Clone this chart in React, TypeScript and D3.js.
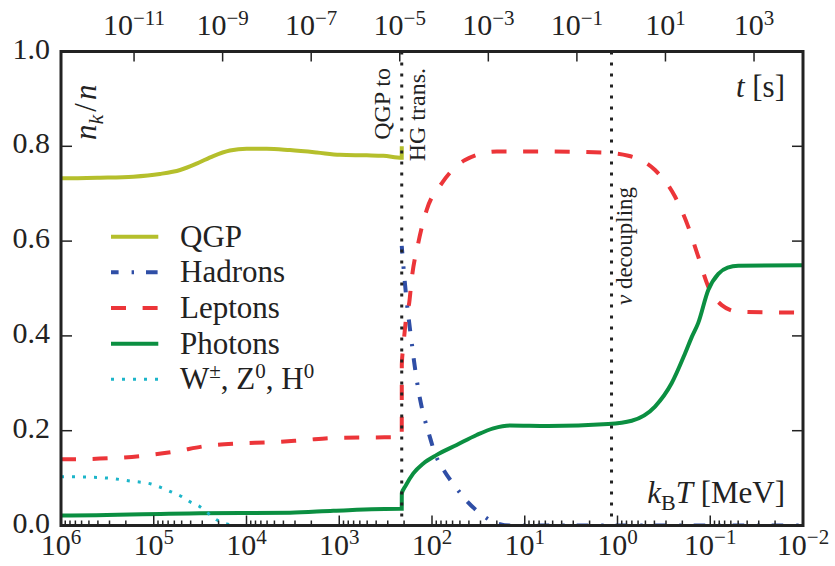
import * as d3 from 'd3'
import { useEffect, useRef } from 'react'

// temperature k_B T in MeV (x), fraction n_k/n (y)
const qgpT = [1e6, 9.4e5, 3.8e5, 1.66e5, 8.6e4, 5.2e4, 3.4e4, 2.28e4, 1.51e4, 9.95e3, 6.05e3, 3.4e3, 1.75e3, 982, 506, 335, 212, 211.8]
const qgpN = [0.7325, 0.7325, 0.7338, 0.736, 0.7416, 0.75, 0.764, 0.7795, 0.791, 0.795, 0.795, 0.792, 0.787, 0.782, 0.781, 0.78, 0.776, 0.8]

const hadronT = [212, 195, 176, 166, 156, 146, 135, 122, 107, 93, 74.3, 56.5, 42.3, 30.4, 20.9, 14.4, 1, 0.01]
const hadronN = [0.59, 0.507, 0.427, 0.388, 0.346, 0.307, 0.268, 0.23, 0.191, 0.152, 0.116, 0.083, 0.052, 0.026, 0.006, 0, 0, 0]

const leptonT = [1e6, 6.35e5, 2.9e5, 1.31e5, 5.9e4, 2.69e4, 1.25e4, 5.5e3, 2.46e3, 1.09e3, 233, 212, 211.6, 204, 187, 176, 166, 141, 114, 78.5, 44, 20, 5.57, 1.48, 0.764, 0.394, 0.24, 0.1725, 0.1346, 0.105, 0.0752, 0.0499, 0.01]
const leptonN = [0.14, 0.14, 0.142, 0.147, 0.156, 0.168, 0.173, 0.1755, 0.18, 0.185, 0.186, 0.186, 0.34, 0.377, 0.448, 0.47, 0.518, 0.595, 0.666, 0.722, 0.771, 0.789, 0.789, 0.787, 0.78, 0.75, 0.694, 0.63, 0.567, 0.504, 0.465, 0.451, 0.449]

const photonT = [1e6, 9.4e5, 3.17e4, 3.4e3, 1.16e3, 221, 212, 211.6, 195, 159, 124, 89, 54.2, 33, 21.8, 14.4, 5.57, 1.26, 0.703, 0.394, 0.261, 0.187, 0.158, 0.135, 0.105, 0.0818, 0.065, 0.0499, 0.01]
const photonN = [0.021, 0.021, 0.0257, 0.027, 0.031, 0.0354, 0.0354, 0.068, 0.082, 0.11, 0.131, 0.149, 0.17, 0.191, 0.205, 0.211, 0.21, 0.214, 0.221, 0.251, 0.3, 0.363, 0.398, 0.427, 0.497, 0.531, 0.544, 0.548, 0.549]

const bosonT = [1e6, 8.6e5, 4.4e5, 2.97e5, 1.81e5, 1.07e5, 8.3e4, 6.5e4, 5.0e4, 4.07e4, 3.2e4, 2.6e4, 2.1e4, 1.6e4, 1.3e4, 0.01]
const bosonN = [0.103, 0.103, 0.1017, 0.0996, 0.094, 0.0875, 0.08, 0.071, 0.061, 0.05, 0.04, 0.026, 0.012, 0.003, 0, 0]

const transitionT = [212, 1.16]
const tempExps = [6, 5, 4, 3, 2, 1, 0, -1, -2]
const timeExps = [-11, -9, -7, -5, -3, -1, 1, 3]
const yTicks = [0, 0.2, 0.4, 0.6, 0.8, 1.0]

const series = [
  { key: 'qgp', label: 'QGP', T: qgpT, n: qgpN, color: '#b5bf2c', dash: undefined, offset: 0 },
  { key: 'hadrons', label: 'Hadrons', T: hadronT, n: hadronN, color: '#2f4ea6', dash: '11.6 13 2.4 12', offset: 4 },
  { key: 'leptons', label: 'Leptons', T: leptonT, n: leptonN, color: '#ec3539', dash: '15 16.6', offset: 0 },
  { key: 'photons', label: 'Photons', T: photonT, n: photonN, color: '#0b8f41', dash: undefined, offset: 0 },
  { key: 'bosons', label: 'W', T: bosonT, n: bosonN, color: '#1cb5c9', dash: '3 8', offset: 0 },
]

const W = 835
const H = 566
const left = 61
const right = 803
const top = 51.5
const bottom = 525.5
const serif = "'Liberation Serif', 'Times New Roman', 'DejaVu Serif'"
const ink = '#222'

const x = d3.scaleLog().domain([1e6, 1e-2]).range([left, right])
const xt = d3.scaleLog().domain([2.24e-13, 1.276e4]).range([left, right])
const y = d3.scaleLinear().domain([0, 1]).range([bottom, top])

const line = d3
  .line<[number, number]>()
  .x(d => x(d[0]))
  .y(d => y(d[1]))
  .curve(d3.curveMonotoneX)

const fmtExp = (e: number) => (e < 0 ? '\u2212' + -e : String(e))

const minorTicks = d3
  .range(6, -2, -1)
  .flatMap(e => d3.range(2, 10).map(m => m * 10 ** (e - 1)))

const BosonLabel = () => (
  <>
    <tspan>W</tspan>
    <tspan dy={-11} fontSize={21}>±</tspan>
    <tspan dy={11}>, Z</tspan>
    <tspan dy={-11} fontSize={21}>0</tspan>
    <tspan dy={11}>, H</tspan>
    <tspan dy={-11} fontSize={21}>0</tspan>
  </>
)

export default function App() {
  const ref = useRef<SVGSVGElement>(null)
  const legendY = d3.scaleLinear().domain([0, 4]).range([236.7, 379.3])

  useEffect(() => {
    d3.select(ref.current)
      .selectAll<SVGTextElement, unknown>('text')
      .each(function () {
        this.style.setProperty('font-family', serif, 'important')
      })
  }, [])

  return (
    <svg
      ref={ref}
      width={W}
      height={H}
      viewBox={`0 0 ${W} ${H}`}
      style={{ position: 'absolute', left: 0, top: 0, background: '#fff', fontFamily: serif }}
    >
      <defs>
        <clipPath id="plot">
          <rect x={left} y={top} width={right - left} height={bottom - top} />
        </clipPath>
      </defs>

      {/* curves */}
      <g clipPath="url(#plot)" fill="none">
        {series.map(s => (
          <path
            key={s.key}
            d={line(s.T.map((t, i) => [t, s.n[i]] as [number, number])) || ''}
            stroke={s.color}
            strokeWidth={s.key === 'bosons' ? 3 : 4}
            strokeDasharray={s.dash}
            strokeDashoffset={s.offset}
          />
        ))}
        {transitionT.map(t => (
          <line
            key={t}
            x1={x(t)}
            x2={x(t)}
            y1={top}
            y2={bottom}
            stroke={ink}
            strokeWidth={3}
            strokeDasharray="3 8"
          />
        ))}
      </g>

      {/* transition annotations */}
      <g fontSize={24} fill={ink}>
        <text transform={`translate(${x(transitionT[0]) - 12},68) rotate(-90)`} textAnchor="end">
          QGP to
        </text>
        <text transform={`translate(${x(transitionT[0]) + 23},68) rotate(-90)`} textAnchor="end">
          HG trans.
        </text>
        <text
          transform={`translate(${x(transitionT[1]) + 20},246) rotate(-90)`}
          textAnchor="middle"
          fontSize={23}
        >
          <tspan fontStyle="italic">ν</tspan> decoupling
        </text>
      </g>

      {/* legend */}
      <g>
        {series.map((s, i) => (
          <g key={s.key}>
            <line
              x1={111}
              x2={158.3}
              y1={legendY(i)}
              y2={legendY(i)}
              stroke={s.color}
              strokeWidth={s.key === 'bosons' ? 3 : 4}
              strokeDasharray={s.dash}
              strokeDashoffset={s.offset}
            />
            <text x={180} y={legendY(i) + 10} fontSize={31} fill={ink}>
              {s.key === 'bosons' ? <BosonLabel /> : s.label}
            </text>
          </g>
        ))}
      </g>

      {/* ticks */}
      <g stroke={ink} strokeWidth={1.5}>
        {yTicks.map(v => (
          <g key={v}>
            <line x1={left} x2={left + 11} y1={y(v)} y2={y(v)} />
            <line x1={right} x2={right - 11} y1={y(v)} y2={y(v)} />
          </g>
        ))}
        {tempExps.map(e => (
          <line key={e} x1={x(10 ** e)} x2={x(10 ** e)} y1={bottom} y2={bottom - 10} />
        ))}
        {minorTicks.map(t => (
          <line key={t} x1={x(t)} x2={x(t)} y1={bottom} y2={bottom - 5} />
        ))}
        {timeExps.map(e => (
          <line key={e} x1={xt(10 ** e)} x2={xt(10 ** e)} y1={top} y2={top + 10} />
        ))}
      </g>

      {/* spines */}
      <rect
        x={left}
        y={top}
        width={right - left}
        height={bottom - top}
        fill="none"
        stroke={ink}
        strokeWidth={3}
      />

      {/* tick labels */}
      <g fontSize={30} fill={ink}>
        {yTicks.map(v => (
          <text key={v} x={50} y={y(v) + 7} textAnchor="end">
            {v.toFixed(1)}
          </text>
        ))}
        {tempExps.map(e => (
          <text key={e} x={x(10 ** e)} y={555} textAnchor="middle">
            <tspan>10</tspan>
            <tspan dy={-11} fontSize={21}>{fmtExp(e)}</tspan>
          </text>
        ))}
        {timeExps.map(e => (
          <text key={e} x={xt(10 ** e)} y={35} textAnchor="middle">
            <tspan>10</tspan>
            <tspan dy={-10} fontSize={21}>{fmtExp(e)}</tspan>
          </text>
        ))}
      </g>

      {/* axis labels */}
      <g fontSize={31} fill={ink}>
        <text transform="translate(96,140) rotate(-90)">
          <tspan fontStyle="italic">n</tspan>
          <tspan dy={7} fontSize={22} fontStyle="italic">k</tspan>
          <tspan dy={-7} dx={3}>/</tspan>
          <tspan dx={3} fontStyle="italic">n</tspan>
        </text>
        <text x={785} y={97} textAnchor="end">
          <tspan fontStyle="italic">t</tspan> [s]
        </text>
        <text x={785} y={503} textAnchor="end">
          <tspan fontStyle="italic">k</tspan>
          <tspan dy={7} fontSize={22}>B</tspan>
          <tspan dy={-7} fontStyle="italic">T</tspan> [MeV]
        </text>
      </g>
    </svg>
  )
}
